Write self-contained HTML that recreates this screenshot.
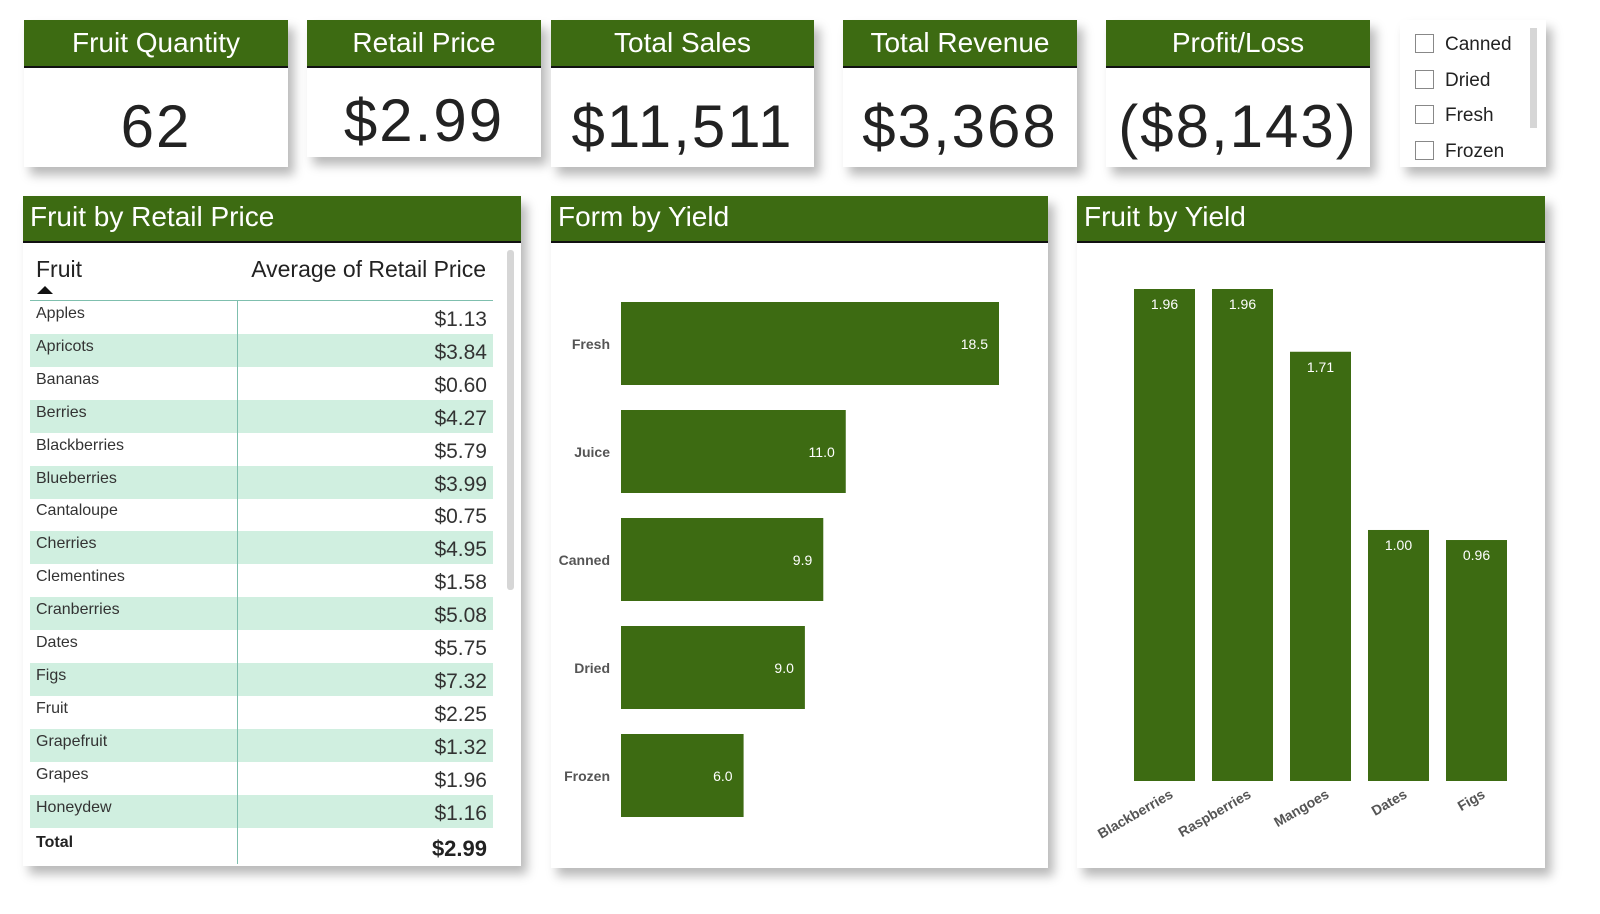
<!DOCTYPE html>
<html><head><meta charset="utf-8"><style>
html,body{margin:0;width:1600px;height:914px;overflow:hidden}
body{background:#fff;font-family:"Liberation Sans",sans-serif;position:relative}
.card{position:absolute;background:#fff;box-shadow:6px 8px 10px rgba(0,0,0,0.28)}
.hdr{background:#3d6b12;color:#fff;border-bottom:2px solid #111;box-sizing:border-box;height:48px;font-size:28px;line-height:46px;text-align:center}
.val{text-align:center;font-size:60px;color:#222;position:absolute;left:0;right:0;letter-spacing:2px}
.ph{background:#3d6b12;color:#fff;border-bottom:2px solid #111;box-sizing:border-box;height:47px;font-size:28px;line-height:42px;padding-left:7px}
.slic{position:absolute;left:1415px;font-size:19px;color:#222}
.slic span{display:inline-block;width:17px;height:17px;border:1px solid #888;vertical-align:-3px;margin-right:11px;background:#fff}
.row{position:absolute;left:30px;width:463px;height:33px;font-size:16px;color:#333}
.row .n{position:absolute;left:6px;top:4px}
.row .v{position:absolute;right:6px;top:7px;font-size:21px}
</style></head><body>
<div class="card" style="left:24px;top:20px;width:264px;height:147px"><div class="hdr">Fruit Quantity</div><div class="val" style="top:72px">62</div></div>
<div class="card" style="left:307px;top:20px;width:234px;height:137px"><div class="hdr">Retail Price</div><div class="val" style="top:66px">$2.99</div></div>
<div class="card" style="left:551px;top:20px;width:263px;height:147px"><div class="hdr">Total Sales</div><div class="val" style="top:72px">$11,511</div></div>
<div class="card" style="left:843px;top:20px;width:234px;height:147px"><div class="hdr">Total Revenue</div><div class="val" style="top:72px">$3,368</div></div>
<div class="card" style="left:1106px;top:20px;width:264px;height:147px"><div class="hdr">Profit/Loss</div><div class="val" style="top:72px">($8,143)</div></div>
<div class="card" style="left:1400px;top:20px;width:146px;height:147px"><div style="position:absolute;left:130px;top:8px;width:7px;height:100px;background:#d6d6d6"></div></div>
<div class="slic" style="top:34px"><span></span>Canned</div>
<div class="slic" style="top:70px"><span></span>Dried</div>
<div class="slic" style="top:105px"><span></span>Fresh</div>
<div class="slic" style="top:141px"><span></span>Frozen</div>

<div class="card" style="left:23px;top:196px;width:498px;height:670px"><div class="ph">Fruit by Retail Price</div>
<div style="position:absolute;left:484px;top:54px;width:7px;height:340px;background:#d6d6d6;border-radius:3px"></div></div>
<div style="position:absolute;left:36px;top:256px;font-size:23px;color:#222">Fruit</div>
<div style="position:absolute;left:37px;top:286px;width:0;height:0;border-left:8px solid transparent;border-right:8px solid transparent;border-bottom:8px solid #111"></div>
<div style="position:absolute;right:1114px;top:256px;font-size:23px;color:#222">Average of Retail Price</div>
<div style="position:absolute;left:30px;top:300px;width:463px;height:1px;background:#7fbfae"></div>
<div id="rows"></div>
<div style="position:absolute;left:237px;top:301px;width:1px;height:563px;background:#7fbfae"></div>
<div style="position:absolute;left:36px;top:834px;font-size:16px;font-weight:bold;color:#222">Total</div>
<div style="position:absolute;right:1113px;top:836px;font-size:22px;font-weight:bold;color:#222">$2.99</div>

<div class="card" style="left:551px;top:196px;width:497px;height:672px"><div class="ph">Form by Yield</div></div>
<div class="card" style="left:1077px;top:196px;width:468px;height:672px"><div class="ph">Fruit by Yield</div></div>
<svg id="charts" width="1600" height="914" style="position:absolute;left:0;top:0"></svg>
<script>
const fruits=["Apples","Apricots","Bananas","Berries","Blackberries","Blueberries","Cantaloupe","Cherries","Clementines","Cranberries","Dates","Figs","Fruit","Grapefruit","Grapes","Honeydew"];
const prices=["$1.13","$3.84","$0.60","$4.27","$5.79","$3.99","$0.75","$4.95","$1.58","$5.08","$5.75","$7.32","$2.25","$1.32","$1.96","$1.16"];
const forms=["Fresh","Juice","Canned","Dried","Frozen"];
const formYield=[18.5,11.0,9.9,9.0,6.0];
const topFruits=["Blackberries","Raspberries","Mangoes","Dates","Figs"];
const fruitYield=[1.96,1.96,1.71,1.00,0.96];
const rows=document.getElementById('rows');
fruits.forEach((f,i)=>{
  const r=document.createElement('div');r.className='row';
  
  
  r.style.top=(301+i*32.9)+'px';
  if(i%2)r.style.background='#d0efe0';
  r.innerHTML='<span class="n">'+f+'</span><span class="v">'+prices[i]+'</span>';
  rows.appendChild(r);
});
const NS='http://www.w3.org/2000/svg',svg=document.getElementById('charts');
function el(t,a,txt){const e=document.createElementNS(NS,t);for(const k in a)e.setAttribute(k,a[k]);if(txt!=null)e.textContent=txt;svg.appendChild(e);return e;}
const G='#3d6b12';
const hx=v=>621+v*(378/18.5), hy=i=>302+i*108;
forms.forEach((f,i)=>{
  const b=el('rect',{x:621,y:hy(i),width:hx(formYield[i])-621,height:83,fill:G});
  
  
  const l=el('text',{x:610,y:hy(i)+47,'text-anchor':'end','font-size':14,'font-weight':'bold',fill:'#555'},f);
  
  
  const v=el('text',{x:hx(formYield[i])-11,y:hy(i)+47,'text-anchor':'end','font-size':14,fill:'#fff'},formYield[i].toFixed(1));
  
  
});
const vy=v=>781-v*(492/1.96), vx=i=>1134+i*78;
topFruits.forEach((f,i)=>{
  const b=el('rect',{x:vx(i),y:vy(fruitYield[i]),width:61,height:781-vy(fruitYield[i]),fill:G});
  
  
  const v=el('text',{x:vx(i)+30.5,y:vy(fruitYield[i])+20,'text-anchor':'middle','font-size':14,fill:'#fff'},fruitYield[i].toFixed(2));
  
  
  const l=el('text',{x:vx(i)+40,y:797,'text-anchor':'end','font-size':14,'font-weight':'bold',fill:'#555',transform:'rotate(-30 '+(vx(i)+40)+' 797)'},f);
  
  
});
</script>
</body></html>
